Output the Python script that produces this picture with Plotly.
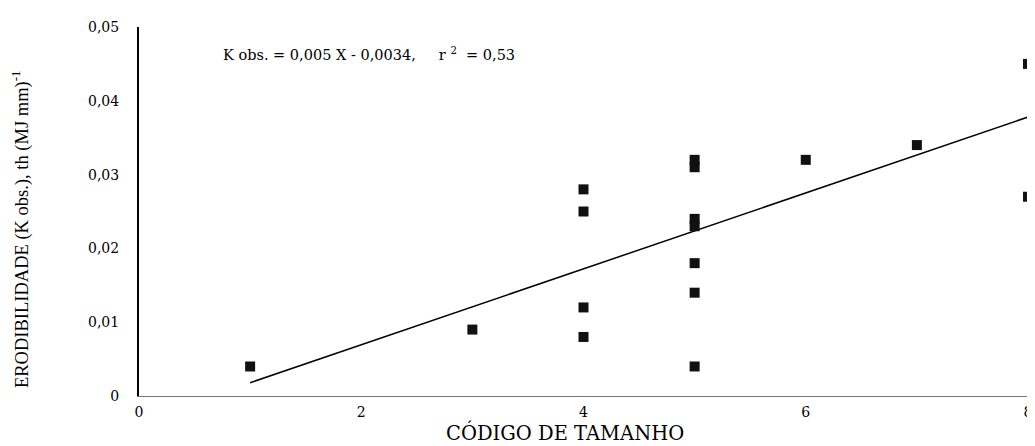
import plotly.graph_objects as go

codigo = [1, 3, 4, 4, 4, 4, 5, 5, 5, 5, 5, 5, 5, 6, 7, 8, 8]
k_obs = [0.004, 0.009, 0.028, 0.025, 0.012, 0.008, 0.032, 0.031, 0.024, 0.023, 0.018, 0.014, 0.004, 0.032, 0.034, 0.045, 0.027]

fit_x = [1, 8]
fit_y = [0.0018, 0.0378]

x_tickvals = [0, 2, 4, 6, 8]
x_ticktext = ["0", "2", "4", "6", "8"]
y_tickvals = [0, 0.01, 0.02, 0.03, 0.04, 0.05]
y_ticktext = ["0", "0,01", "0,02", "0,03", "0,04", "0,05"]

serif = "Liberation Serif, serif"
wide = "DejaVu Serif, Liberation Serif, serif"

fig = go.Figure()
fig.add_trace(go.Scatter(x=fit_x, y=fit_y, mode="lines",
                         line=dict(color="black", width=1.5), showlegend=False))
fig.add_trace(go.Scatter(x=codigo, y=k_obs, mode="markers",
                         marker=dict(symbol="square", size=10, color="#111111"),
                         cliponaxis=False, showlegend=False))

fig.add_annotation(x=0.74, y=0.0464, xref="x", yref="y", xanchor="left", yanchor="middle",
                   text="K obs. = 0,005 X - 0,0034,     r <sup>2</sup>  = 0,53", showarrow=False,
                   font=dict(family=wide, size=14.5, color="black"))

# axis titles
fig.add_annotation(x=0.479, y=-0.098, xref="paper", yref="paper", xanchor="center", yanchor="middle",
                   text="CÓDIGO DE TAMANHO", showarrow=False,
                   font=dict(family=wide, size=19.5, color="black"))
fig.add_annotation(x=-0.1325, y=0.453, xref="paper", yref="paper", xanchor="center", yanchor="middle",
                   text="ERODIBILIDADE (K obs.), th (MJ mm)<sup>-1</sup>", showarrow=False, textangle=-90,
                   font=dict(family=serif, size=18.5, color="black"))

fig.update_layout(
    width=1035, height=446,
    margin=dict(l=131, r=11, t=12, b=58),
    paper_bgcolor="white", plot_bgcolor="white",
    font=dict(family=serif, color="black"),
)
fig.update_xaxes(range=[0, 8], tickvals=x_tickvals, ticktext=x_ticktext,
                 showgrid=False, zeroline=False, showline=True, linecolor="#777777", linewidth=1,
                 ticks="", tickfont=dict(size=14, family=wide), ticklabelstandoff=3)
fig.update_yaxes(range=[0, 0.05], tickvals=y_tickvals, ticktext=y_ticktext,
                 showgrid=False, zeroline=False, showline=True, linecolor="black", linewidth=2,
                 ticks="", tickfont=dict(size=14, family=wide), ticklabelstandoff=15)

fig.write_html("out.html")
